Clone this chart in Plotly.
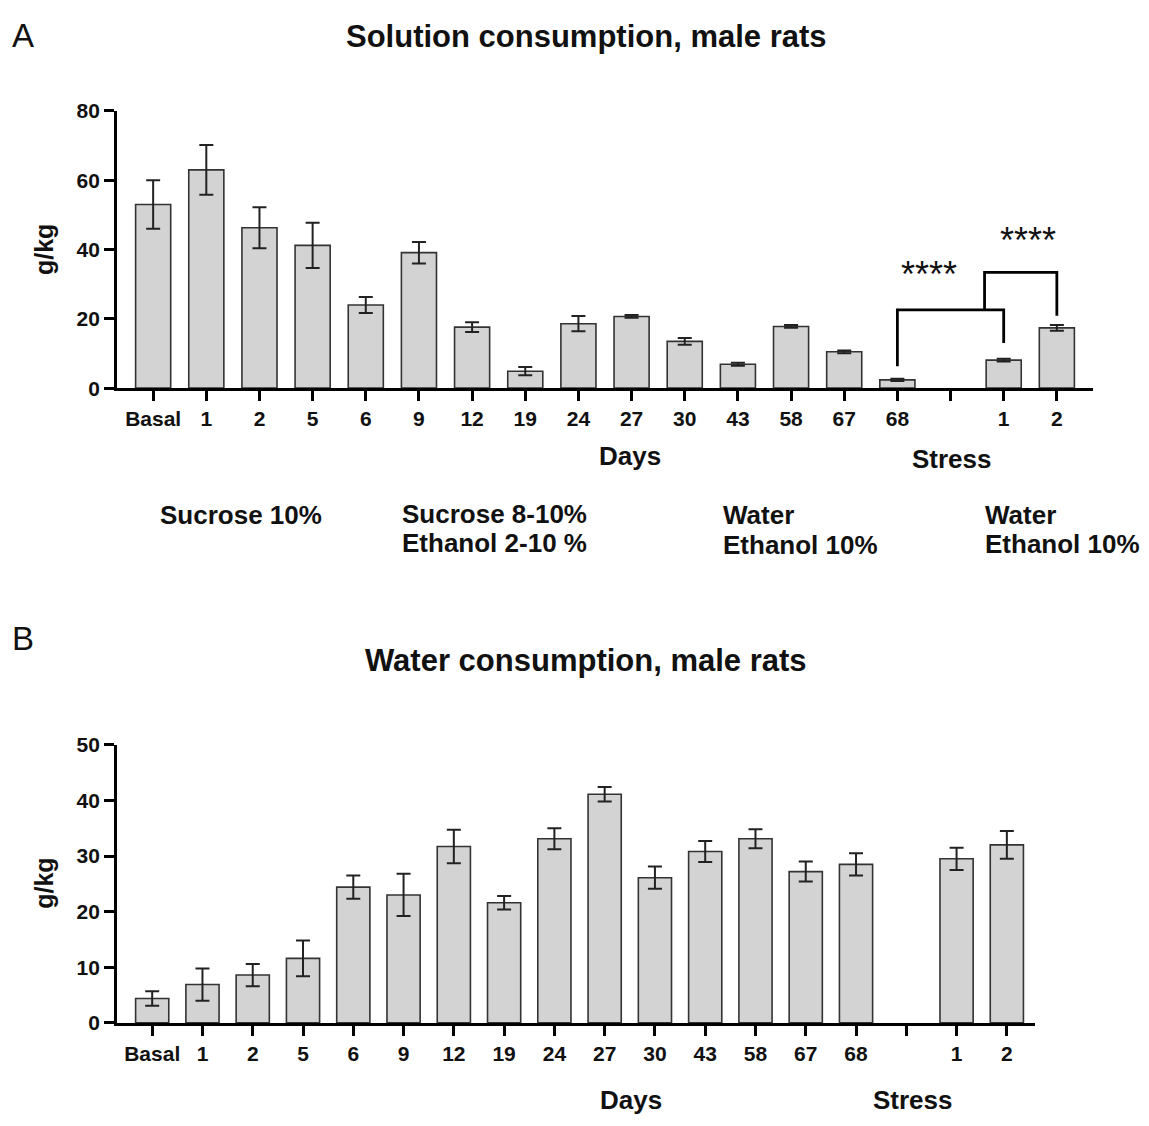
import plotly.graph_objects as go

# ---------------- data ----------------
tick_labels = ["Basal", "1", "2", "5", "6", "9", "12", "19", "24", "27", "30",
               "43", "58", "67", "68", "", "1", "2"]

# Panel A: solution consumption (g/kg), mean and SEM; None = empty gap slot
sol_mean = [53.0, 63.0, 46.3, 41.2, 24.0, 39.1, 17.6, 4.9, 18.6, 20.7, 13.5,
            6.9, 17.8, 10.5, 2.4, None, 8.1, 17.4]
sol_err = [7.0, 7.2, 5.9, 6.5, 2.3, 3.1, 1.4, 1.2, 2.2, 0.4, 1.0,
           0.4, 0.4, 0.4, 0.3, None, 0.4, 0.8]

# Panel B: water consumption (g/kg)
wat_mean = [4.4, 6.9, 8.6, 11.6, 24.4, 23.0, 31.7, 21.6, 33.1, 41.1, 26.1,
            30.8, 33.1, 27.2, 28.5, None, 29.5, 32.0]
wat_err = [1.3, 2.9, 2.0, 3.2, 2.1, 3.8, 3.0, 1.2, 1.9, 1.3, 2.0,
           1.9, 1.7, 1.8, 2.0, None, 2.0, 2.5]

# significance comparisons (panel A):
# (left x, right x, left leg bottom, right leg bottom, bracket height)
sig_pairs = [
    (14, 16, 6.3, 13.0, 22.6),
    (15.64, 17, 22.6, 20.9, 33.4),
]
sig_labels = ["****", "****"]
sig_label_pos = [(14.59, 32.9), (16.45, 42.5)]

group_lines = [
    ["Sucrose 10%"],
    ["Sucrose 8-10%", "Ethanol 2-10 %"],
    ["Water", "Ethanol 10%"],
    ["Water", "Ethanol 10%"],
]

# ---------------- styling ----------------
FONT = "Liberation Sans, Arial, sans-serif"
BAR_FILL = "#d3d3d3"
BAR_LINE = "#333333"
W, H = 1149, 1126


def px_x(p):
    return p / W


def px_y(p):
    return 1 - p / H


xs = list(range(len(tick_labels)))

fig = go.Figure()

for mean, err, xa, ya in [(sol_mean, sol_err, "x", "y"),
                          (wat_mean, wat_err, "x2", "y2")]:
    fig.add_trace(go.Bar(
        x=xs, y=mean, width=0.66,
        marker=dict(color=BAR_FILL, line=dict(color=BAR_LINE, width=1.6)),
        error_y=dict(type="data", array=err, visible=True, color="#222222",
                     thickness=2, width=7),
        xaxis=xa, yaxis=ya, showlegend=False))

axis_common = dict(showline=True, linecolor="black", linewidth=2.8,
                   ticks="outside", ticklen=10, tickwidth=2.6, tickcolor="black",
                   showgrid=False, zeroline=False,
                   tickfont=dict(family=FONT, size=21, color="#111",
                                 weight="bold"))

fig.update_layout(
    width=W, height=H, margin=dict(l=0, r=0, t=0, b=0),
    paper_bgcolor="white", plot_bgcolor="white",
    xaxis=dict(domain=[px_x(117), px_x(1093)], range=[-0.68, 17.68],
               tickmode="array", tickvals=xs, ticktext=tick_labels,
               anchor="y", **axis_common),
    yaxis=dict(domain=[px_y(384), px_y(101)], range=[0, 80],
               tickmode="array", tickvals=[0, 20, 40, 60, 80],
               anchor="x", **axis_common),
    xaxis2=dict(domain=[px_x(117), px_x(1035)], range=[-0.70, 17.56],
                tickmode="array", tickvals=xs, ticktext=tick_labels,
                anchor="y2", **axis_common),
    yaxis2=dict(domain=[px_y(1032), px_y(748)], range=[0, 50],
                tickmode="array", tickvals=[0, 10, 20, 30, 40, 50],
                anchor="x2", **axis_common),
)

# significance brackets
for (a, b, ya, yb, top) in sig_pairs:
    fig.add_shape(type="path",
                  path=f"M {a} {ya} L {a} {top} L {b} {top} L {b} {yb}",
                  xref="x", yref="y", line=dict(color="black", width=2.8))

for (sx, sy), lab in zip(sig_label_pos, sig_labels):
    fig.add_annotation(text=lab, x=sx, y=sy, xref="x", yref="y",
                       showarrow=False, xanchor="center", yanchor="middle",
                       font=dict(family=FONT, size=36, color="#111"))


def ann(text, x, y, size, bold=True, xanchor="center", yanchor="middle",
        angle=0):
    fig.add_annotation(text=text, x=px_x(x), y=px_y(y), xref="paper",
                       yref="paper", showarrow=False, xanchor=xanchor,
                       yanchor=yanchor, textangle=angle,
                       font=dict(family=FONT, size=size, color="#111",
                                 weight="bold" if bold else "normal"))


# panel letters and titles
ann("A", 23, 24, 33, bold=False)
ann("B", 23, 640, 33, bold=False)
ann("Solution consumption, male rats", 586, 25, 31)
ann("Water consumption, male rats", 586, 662, 31)

# y titles
ann("g/kg", 44, 243, 25, angle=-90)
ann("g/kg", 44, 890, 25, angle=-90)

# x titles
ann("Days", 630, 453, 26)
ann("Stress", 952, 456, 26)
ann("Days", 631, 1111, 26)
ann("Stress", 913, 1111, 26)

# group labels (solution offered in each phase)
ann(group_lines[0][0], 241, 513, 26)
for lines, x0, ys in [(group_lines[1], 400, (512, 542)),
                      (group_lines[2], 721, (513, 544)),
                      (group_lines[3], 983, (513, 543))]:
    for txt, yy in zip(lines, ys):
        ann(txt, x0, yy, 26, xanchor="left")

fig.write_html("out.html")
